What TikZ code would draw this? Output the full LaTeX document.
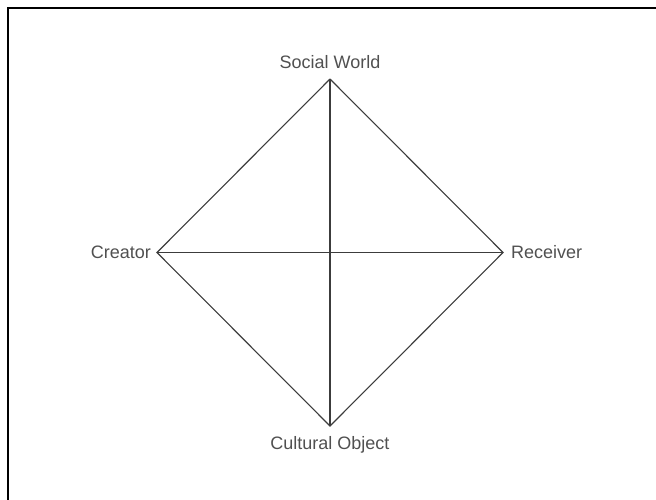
\documentclass[tikz,border=0pt]{standalone}
\usepackage{fontspec}
\setmainfont{Liberation Sans}
\usepackage{tikz}
\usetikzlibrary{positioning}
\usepackage{xcolor}
\definecolor{edgegray}{HTML}{3C3C3C}
\definecolor{textgray}{HTML}{505050}

\begin{document}
\begin{tikzpicture}[x=1pt,y=-1pt,
    lbl/.style={inner sep=0pt,text=textgray,font=\fontsize{18}{20}\selectfont}]
        \useasboundingbox (0,0) rectangle (656,499);
        \draw[line width=2pt] (7.5,520) -- (7.5,7.5) -- (680,7.5);
        \coordinate (sw) at (330,79);
        \coordinate (cr) at (157,252.5);
        \coordinate (rc) at (503,252.5);
        \coordinate (co) at (330,426);
        \node[lbl,above=10pt of sw] (swl) {Social World};
        \node[lbl,left=6pt of cr] (crl) {Creator};
        \node[lbl,right=8pt of rc] (rcl) {Receiver};
        \node[lbl,below=10pt of co] (col) {Cultural Object};
        \draw[edgegray,line width=1.1pt] (sw)--(rc)--(co)--(cr)--(sw);
        \draw[edgegray,line width=1.1pt] (sw)--(co); \draw[edgegray,line width=1.1pt] (cr)--(rc);
      \end{tikzpicture}
\end{document}
